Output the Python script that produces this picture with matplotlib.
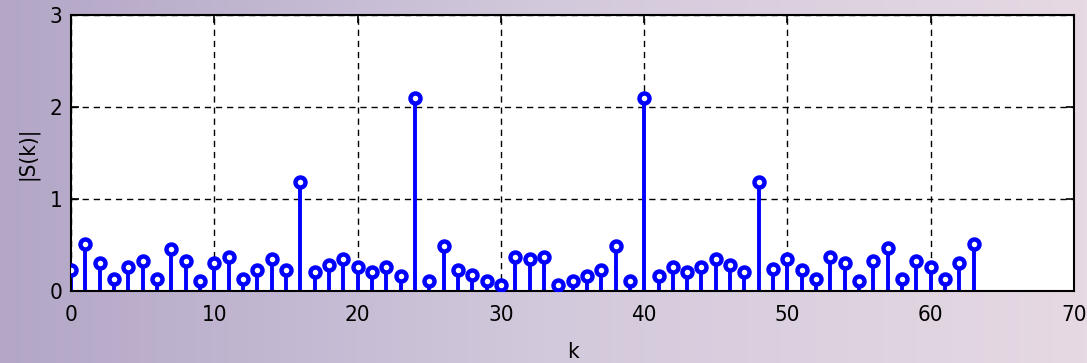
import numpy as np
import matplotlib.pyplot as plt
from matplotlib.colors import LinearSegmentedColormap

k = np.arange(64)
mag = [0.23, 0.51, 0.30, 0.13, 0.26, 0.33, 0.13, 0.46,
       0.33, 0.105, 0.30, 0.37, 0.13, 0.23, 0.35, 0.23,
       1.18, 0.21, 0.28, 0.35, 0.26, 0.21, 0.26, 0.165,
       2.10, 0.11, 0.49, 0.23, 0.17, 0.11, 0.06, 0.37,
       0.35, 0.37, 0.06, 0.11, 0.16, 0.23, 0.49, 0.105,
       2.10, 0.16, 0.26, 0.21, 0.26, 0.35, 0.28, 0.21,
       1.18, 0.24, 0.35, 0.23, 0.13, 0.37, 0.30, 0.11,
       0.33, 0.47, 0.13, 0.33, 0.26, 0.13, 0.30, 0.51]
xticks = [0, 10, 20, 30, 40, 50, 60, 70]
yticks = [0, 1, 2, 3]

plt.rcParams['font.family'] = ['DejaVu Sans']
plt.rcParams['font.stretch'] = 'condensed'

fig = plt.figure(figsize=(10.87, 3.63), dpi=100)

# фоновый градиент
bg = fig.add_axes([0, 0, 1, 1], zorder=-10)
cmap = LinearSegmentedColormap.from_list('bg', ['#b3a6c7', '#d2c9dc', '#e6d9e3'])
bg.imshow(np.linspace(0, 1, 256)[None, :], aspect='auto', cmap=cmap, extent=[0, 1, 0, 1])
bg.axis('off')

ax = fig.add_axes([0.0653, 0.1983, 0.9228, 0.7603])
ax.set_facecolor('white')

markers, stems, base = ax.stem(k, mag, linefmt='-', markerfmt='o', basefmt=' ')
plt.setp(stems, color='#0000ff', linewidth=2.8)
plt.setp(markers, color='#0000ff', markersize=7.2, markeredgewidth=3.2,
         markerfacecolor='white', zorder=3)

ax.set_xlim(0, 70)
ax.set_ylim(0, 3)
ax.set_xticks(xticks)
ax.set_yticks(yticks)
ax.grid(True, color='black', linestyle=(0, (4.5, 3.5)), linewidth=1.0)
ax.set_axisbelow(True)
ax.tick_params(direction='in', length=6, width=1.2, top=True, right=True,
               labelsize=16)
ax.tick_params(axis='x', pad=10)
ax.tick_params(axis='y', pad=6)
for s in ax.spines.values():
    s.set_linewidth(1.5)

ax.set_xlabel('k', fontsize=16, labelpad=12)
ax.set_ylabel('|S(k)|', fontsize=16, labelpad=8)

plt.savefig('out.png', dpi=100)
